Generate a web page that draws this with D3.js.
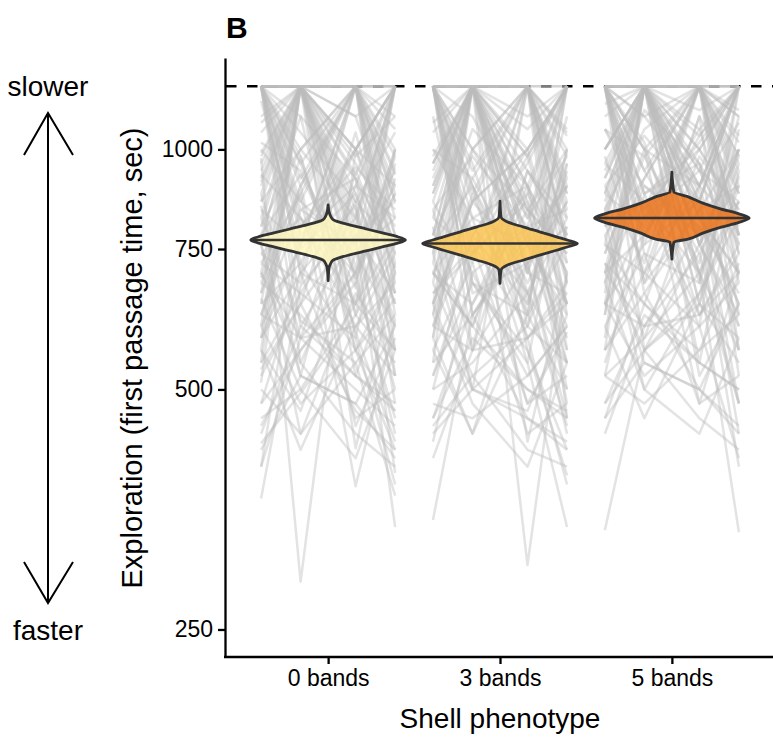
<!DOCTYPE html>
<html>
<head>
<meta charset="utf-8">
<script src="https://cdn.jsdelivr.net/npm/d3@7"></script>
<style>
  body { margin: 0; background: #fff; }
  text { font-family: "Liberation Sans", Arial, sans-serif; }
</style>
</head>
<body>
<div class="chart"></div>
<script>
// phenotypes and y ticks
var phenotypes = ["0 bands", "3 bands", "5 bands"]
var yTicks = [250, 500, 750, 1000]
var maxTime = 1200
var trialOffsets = [-0.39, -0.16, 0.16, 0.39]

// individual first passage times (4 trials each)
var trials0 = [
  [1200, 1200, 1200, 1200], [1200, 1200, 880, 640], [975, 287, 1000, 760], [365, 674, 820, 1200],
  [428, 495, 620, 540], [1200, 720, 560, 420], [860, 1200, 1200, 930], [640, 1200, 710, 1200],
  [1200, 540, 780, 336], [720, 880, 378, 610], [540, 1200, 422, 700], [1200, 960, 1200, 1200],
  [820, 610, 540, 368], [1050, 1200, 690, 880], [600, 760, 1200, 520], [1200, 1200, 930, 1200],
  [480, 700, 850, 393], [930, 820, 600, 740], [1200, 640, 1050, 680], [700, 1200, 1200, 820],
  [560, 470, 740, 900], [1200, 1100, 560, 470], [780, 930, 670, 1200], [510, 1200, 820, 610],
  [1200, 860, 1200, 560], [880, 580, 500, 450], [660, 1200, 980, 1100], [1150, 750, 880, 640],
  [450, 560, 700, 980], [1200, 1200, 620, 760], [740, 680, 1200, 1200], [990, 1200, 760, 500],
  [620, 900, 450, 580], [1200, 1000, 1200, 860], [850, 520, 940, 710], [580, 1200, 1200, 660],
  [1200, 820, 700, 1000], [690, 980, 590, 430], [910, 1200, 1100, 780], [530, 640, 800, 1200],
  [1200, 1200, 1000, 900], [760, 440, 660, 560], [1080, 1200, 520, 720], [400, 800, 950, 840],
  [1200, 900, 1200, 620],
  [1200, 1200, 1200, 980], [1200, 1200, 760, 1200], [940, 1200, 1200, 700], [1200, 780, 900, 1200],
  [800, 1000, 1200, 860], [1200, 1200, 840, 560], [620, 840, 760, 940], [1200, 960, 640, 780],
  [900, 1200, 1000, 1200], [700, 580, 900, 820], [1200, 1200, 1200, 720], [1000, 860, 740, 600],
  [760, 1200, 580, 1000], [1200, 700, 1200, 900], [860, 1000, 820, 1200], [1200, 1200, 680, 1000],
  [580, 760, 1000, 700], [1200, 1050, 860, 760], [980, 1200, 920, 480], [680, 900, 1200, 1100],
  [1200, 600, 780, 860], [820, 1200, 1200, 1200], [1200, 1200, 960, 800], [740, 820, 640, 920],
  [1100, 1200, 780, 660], [640, 720, 1000, 1200], [1200, 920, 1200, 740], [880, 1200, 620, 960],
  [1200, 1200, 1100, 1200], [720, 660, 860, 520], [1200, 800, 1000, 1200], [960, 1200, 1200, 880],
  [600, 1200, 740, 820], [1200, 980, 560, 700], [840, 760, 1200, 1000], [1200, 1200, 800, 600],
  [780, 1100, 920, 740], [1200, 700, 640, 1200], [920, 1200, 860, 1050], [660, 880, 1200, 780],
  [1200, 1200, 1200, 1060], [1020, 940, 700, 880], [560, 1200, 1000, 1200], [1200, 840, 920, 660],
  [800, 1200, 1200, 940],
  [520, 640, 470, 420], [600, 480, 560, 650], [440, 600, 520, 480], [700, 540, 440, 400],
  [560, 420, 600, 520], [480, 560, 680, 460], [650, 500, 410, 560], [540, 660, 580, 380],
  [420, 520, 480, 600], [620, 580, 700, 440], [500, 440, 540, 620], [580, 700, 460, 500],
  [460, 500, 640, 560], [680, 620, 520, 470], [400, 580, 600, 680], [760, 520, 480, 410]
]
var trials3 = [
  [1200, 1200, 1200, 1200], [1200, 1200, 760, 540], [343, 620, 780, 900], [880, 1200, 301, 700],
  [1200, 680, 540, 336], [640, 1200, 1200, 820], [760, 900, 620, 1200], [1200, 1200, 980, 640],
  [520, 740, 860, 480], [960, 1200, 700, 1100], [1200, 560, 1200, 760], [700, 820, 480, 590],
  [1200, 1200, 1200, 880], [580, 1000, 760, 1200], [900, 1200, 560, 420], [460, 640, 900, 700],
  [1200, 1100, 820, 980], [800, 500, 1200, 620], [1050, 1200, 660, 540], [620, 860, 1000, 1200],
  [1200, 760, 600, 800], [740, 1200, 1200, 460], [560, 440, 720, 860], [1200, 1200, 900, 1200],
  [860, 700, 520, 600], [680, 1200, 840, 740], [1200, 940, 1200, 560], [500, 780, 640, 1000],
  [980, 1200, 430, 700], [1200, 620, 760, 900], [720, 1200, 1100, 1200], [600, 880, 580, 380],
  [1200, 1200, 700, 660], [840, 560, 940, 820], [430, 700, 800, 560], [1200, 1000, 1200, 1050],
  [920, 1200, 620, 760], [660, 760, 480, 520], [1200, 860, 1000, 1200], [780, 1200, 860, 640],
  [1100, 660, 720, 440], [540, 1200, 1200, 780], [1200, 900, 540, 960], [700, 600, 880, 700],
  [1200, 1200, 1200, 900],
  [1200, 1200, 1200, 1000], [1200, 1200, 820, 1200], [960, 1200, 1200, 760], [1200, 740, 880, 1200],
  [780, 1000, 1200, 840], [1200, 1200, 780, 600], [640, 860, 720, 920], [1200, 900, 660, 820],
  [880, 1200, 1000, 1200], [720, 600, 940, 780], [1200, 1200, 1200, 680], [1000, 820, 760, 620],
  [740, 1200, 600, 1000], [1200, 720, 1200, 880], [840, 980, 800, 1200], [1200, 1200, 700, 960],
  [600, 780, 1000, 680], [1200, 1000, 840, 740], [960, 1200, 900, 500], [700, 920, 1200, 1060],
  [1200, 620, 800, 840], [820, 1200, 1200, 1200], [1200, 1200, 940, 780], [760, 800, 660, 900],
  [1080, 1200, 760, 640], [660, 740, 980, 1200], [1200, 880, 1200, 720], [860, 1200, 640, 940],
  [1200, 1200, 1060, 1200], [700, 640, 840, 540], [1200, 780, 960, 1200], [940, 1200, 1200, 860],
  [620, 1200, 720, 800], [1200, 960, 580, 680], [820, 740, 1200, 980], [1200, 1200, 780, 580],
  [760, 1060, 900, 720], [1200, 680, 620, 1200], [900, 1200, 840, 1000], [640, 860, 1200, 760],
  [1200, 1200, 1200, 1040], [1000, 920, 680, 860], [580, 1200, 980, 1200], [1200, 820, 900, 640],
  [780, 1200, 1200, 920],
  [540, 620, 460, 430], [620, 500, 580, 640], [460, 580, 500, 470], [680, 520, 420, 400],
  [580, 440, 620, 500], [500, 540, 660, 450], [640, 480, 400, 540], [520, 680, 560, 390],
  [440, 500, 470, 620], [600, 560, 720, 460], [480, 460, 520, 600], [560, 720, 440, 480],
  [450, 520, 600, 540], [700, 600, 500, 460], [410, 560, 580, 660], [740, 500, 460, 420]
]
var trials5 = [
  [1200, 1200, 1200, 1200], [1200, 1200, 900, 1200], [333, 560, 760, 900], [880, 1200, 700, 331],
  [1200, 760, 1200, 620], [700, 1200, 1200, 980], [1200, 1200, 820, 700], [960, 860, 600, 1200],
  [560, 1200, 940, 760], [1200, 680, 1100, 880], [820, 1200, 520, 640], [1200, 1000, 1200, 1200],
  [640, 760, 860, 440], [1100, 1200, 760, 1000], [1200, 560, 660, 820], [760, 1200, 1200, 560],
  [520, 880, 1000, 1200], [1200, 1200, 640, 900], [900, 720, 1200, 760], [680, 1200, 880, 480],
  [1200, 940, 720, 1100], [1000, 1200, 1200, 680], [460, 640, 560, 720], [1200, 1200, 1000, 840],
  [840, 580, 900, 1200], [620, 1200, 760, 600], [1200, 820, 1200, 960], [740, 1000, 480, 700],
  [1200, 1200, 860, 1200], [980, 700, 1100, 520], [580, 1200, 940, 860], [1200, 880, 620, 760],
  [860, 1200, 1200, 1100], [700, 600, 800, 400], [1200, 1100, 1200, 700], [920, 1200, 540, 940],
  [540, 780, 1000, 1200], [1200, 1200, 760, 620], [780, 920, 1200, 880], [1200, 660, 840, 1000],
  [640, 1200, 700, 560], [1060, 840, 1200, 1200], [1200, 1200, 1200, 780], [820, 500, 660, 860],
  [1200, 1000, 900, 1200],
  [1200, 1200, 1200, 1020], [1200, 1200, 860, 1200], [1000, 1200, 1200, 780], [1200, 820, 940, 1200],
  [840, 1060, 1200, 900], [1200, 1200, 820, 640], [680, 900, 780, 980], [1200, 1000, 700, 860],
  [940, 1200, 1060, 1200], [760, 640, 980, 840], [1200, 1200, 1200, 740], [1060, 900, 800, 660],
  [800, 1200, 640, 1060], [1200, 780, 1200, 940], [900, 1040, 860, 1200], [1200, 1200, 760, 1000],
  [640, 820, 1060, 740], [1200, 1100, 900, 800], [1000, 1200, 960, 560], [740, 980, 1200, 1120],
  [1200, 680, 840, 900], [880, 1200, 1200, 1200], [1200, 1200, 1000, 820], [800, 860, 700, 960],
  [1140, 1200, 820, 700], [700, 780, 1040, 1200], [1200, 940, 1200, 780], [920, 1200, 680, 1000],
  [1200, 1200, 1120, 1200], [760, 700, 900, 600], [1200, 840, 1020, 1200], [1000, 1200, 1200, 920],
  [660, 1200, 780, 860], [1200, 1020, 620, 740], [880, 800, 1200, 1040], [1200, 1200, 840, 640],
  [820, 1120, 960, 780], [1200, 740, 680, 1200], [960, 1200, 900, 1080], [700, 920, 1200, 820],
  [1200, 1200, 1200, 1100], [1060, 980, 740, 920], [620, 1200, 1040, 1200], [1200, 880, 960, 700],
  [840, 1200, 1200, 980],
  [560, 660, 500, 450], [640, 520, 600, 680], [480, 620, 540, 500], [720, 560, 460, 420],
  [600, 460, 640, 540], [520, 580, 700, 480], [680, 500, 440, 580], [560, 700, 600, 410],
  [460, 540, 500, 640], [640, 600, 740, 480], [520, 480, 560, 620], [600, 740, 480, 520],
  [480, 560, 640, 580], [720, 640, 540, 500], [440, 600, 620, 700], [780, 540, 500, 440]
]

// violin profiles (value in sec, relative density) and medians
var vio0Vals = [684.6, 710.9, 717.8, 726.2, 731.6, 737.4, 745.9, 754.6, 761.8, 770, 778.3, 785.7, 794.9, 804.1, 810.4, 816.5, 826.0, 834.1, 851.9]
var vio0Dens = [0, 0.013, 0.029, 0.064, 0.149, 0.277, 0.489, 0.702, 0.872, 1, 0.872, 0.702, 0.489, 0.277, 0.149, 0.064, 0.029, 0.013, 0]
var vio3Vals = [679, 705.4, 714.5, 720.3, 726.1, 736.7, 747.4, 754.3, 762, 769.7, 776.9, 788.2, 799.7, 806.1, 812.7, 823.1, 861]
var vio3Dens = [0, 0.013, 0.078, 0.17, 0.296, 0.512, 0.73, 0.87, 1, 0.87, 0.73, 0.512, 0.296, 0.17, 0.078, 0.013, 0]
var vio5Vals = [728.4, 765.1, 771.8, 785.2, 798.3, 809.4, 820, 830.7, 842.3, 856.3, 873.0, 884.0, 936.5]
var vio5Dens = [0, 0.026, 0.21, 0.40, 0.627, 0.86, 1, 0.86, 0.627, 0.40, 0.196, 0.026, 0]
var medians = [770, 762, 820]
var fills = ["#fff7bc", "#fec44f", "#ec7014"]

var groups = [
  { trials: trials0, vals: vio0Vals, dens: vio0Dens },
  { trials: trials3, vals: vio3Vals, dens: vio3Dens },
  { trials: trials5, vals: vio5Vals, dens: vio5Dens }
]

var width = 773, height = 737

var svg = d3.select(".chart").append("svg")
  .attr("width", width)
  .attr("height", height)

var x = d3.scaleLinear().domain([0.4, 3.6]).range([225, 775])
var y = d3.scaleLog().domain([230.9, 1302]).range([657, 58])
var halfWidth = 0.45

// cutoff line
svg.append("line")
  .attr("x1", 226).attr("x2", width)
  .attr("y1", y(maxTime)).attr("y2", y(maxTime))
  .attr("stroke", "#000")
  .attr("stroke-width", 2.3)
  .attr("stroke-dasharray", "10.5,10.5")

// individual lines
var line = d3.line()
  .x(d => d[0])
  .y(d => y(d[1]))

groups.forEach((g, gi) => {
  svg.append("g").selectAll("path")
    .data(g.trials)
    .enter()
    .append("path")
    .attr("d", d => line(d.map((v, ti) => [x(gi + 1 + trialOffsets[ti]), v])))
    .attr("fill", "none")
    .attr("stroke", "#bdbdbd")
    .attr("stroke-opacity", 0.42)
    .attr("stroke-width", 2.5)
    .attr("stroke-linejoin", "round")
})

// violins
groups.forEach((g, gi) => {
  var cx = gi + 1
  var pts = g.vals.map((v, i) => ({ v: v, d: g.dens[i] }))
  var area = d3.area()
    .y(d => y(d.v))
    .x0(d => x(cx - halfWidth * d.d))
    .x1(d => x(cx + halfWidth * d.d))
    .curve(d3.curveMonotoneY)

  svg.append("path")
    .datum(pts)
    .attr("d", area)
    .attr("fill", fills[gi])
    .attr("fill-opacity", 0.82)
    .attr("stroke", "#333")
    .attr("stroke-width", 2.8)
    .attr("stroke-linejoin", "round")

  svg.append("line")
    .attr("x1", x(cx - halfWidth)).attr("x2", x(cx + halfWidth))
    .attr("y1", y(medians[gi])).attr("y2", y(medians[gi]))
    .attr("stroke", "#333")
    .attr("stroke-width", 2.5)
})

// axes
var yAxis = svg.append("g")
  .attr("transform", "translate(225,0)")
  .call(d3.axisLeft(y).tickValues(yTicks).tickFormat(d3.format("d")).tickSizeInner(7).tickSizeOuter(0).tickPadding(5))
var xAxis = svg.append("g")
  .attr("transform", "translate(0,657)")
  .call(d3.axisBottom(x).tickValues([1, 2, 3]).tickFormat(d => phenotypes[d - 1]).tickSizeInner(7).tickSizeOuter(0).tickPadding(6))

svg.selectAll(".domain, .tick line")
  .attr("stroke", "#000")
  .attr("stroke-width", 2.3)
svg.selectAll(".tick text")
  .attr("fill", "#000")
  .style("font-size", "23px")
xAxis.select(".domain").attr("d", "M224,0H" + width)

// titles
svg.append("text")
  .attr("x", 500).attr("y", 728)
  .attr("text-anchor", "middle")
  .style("font-size", "28px")
  .text("Shell phenotype")

svg.append("text")
  .attr("transform", "translate(142,358) rotate(-90)")
  .attr("text-anchor", "middle")
  .style("font-size", "29px")
  .text("Exploration (first passage time, sec)")

svg.append("text")
  .attr("x", 226).attr("y", 38)
  .style("font-size", "30px")
  .style("font-weight", "bold")
  .text("B")

// slower / faster annotation
svg.append("text")
  .attr("x", 48).attr("y", 96)
  .attr("text-anchor", "middle")
  .style("font-size", "28px")
  .text("slower")
svg.append("text")
  .attr("x", 48).attr("y", 640)
  .attr("text-anchor", "middle")
  .style("font-size", "28px")
  .text("faster")

svg.append("path")
  .attr("d", "M48,113V603M24,155L48,113L73,155M24,562L48,603L73,562")
  .attr("fill", "none")
  .attr("stroke", "#000")
  .attr("stroke-width", 2)
</script>
</body>
</html>
